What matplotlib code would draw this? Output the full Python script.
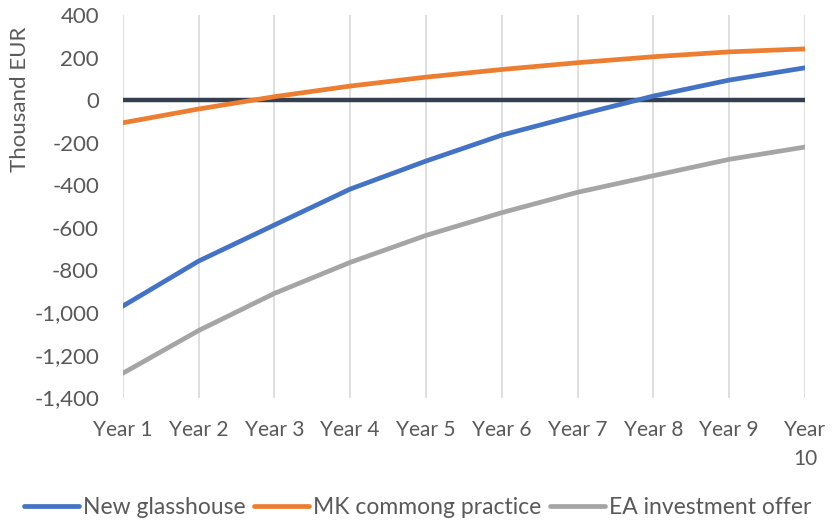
import matplotlib
matplotlib.use("Agg")
import matplotlib.pyplot as plt
from matplotlib.ticker import FuncFormatter, MultipleLocator

years = ["Year 1", "Year 2", "Year 3", "Year 4", "Year 5",
         "Year 6", "Year 7", "Year 8", "Year 9", "Year 10"]

# cumulative cash flow, thousand EUR
new_glasshouse = [-970, -758, -588, -419, -287, -165, -71, 19, 94, 152]
mk_practice = [-107, -42, 16, 66, 108, 144, 176, 204, 227, 241]
ea_offer = [-1286, -1085, -910, -764, -637, -530, -434, -356, -279, -221]

series = [
    ("New glasshouse", new_glasshouse, "#4472C4"),
    ("MK commong practice", mk_practice, "#ED7D31"),
    ("EA investment offer", ea_offer, "#A5A5A5"),
]

plt.rcParams["font.family"] = ["Lato", "DejaVu Sans"]
text_color = "#595959"

fig = plt.figure(figsize=(8.32, 5.21), dpi=100)
ax = fig.add_axes([0.1475, 0.237, 0.82, 0.734])

x = range(len(years))
for name, values, color in series:
    ax.plot(x, values, color=color, lw=3.4, label=name,
            solid_capstyle="round", zorder=3)

ax.axhline(0, color="#333F50", lw=3.2, zorder=2)

ax.set_xlim(0, len(years) - 1)
ax.set_ylim(-1400, 400)
ax.yaxis.set_major_locator(MultipleLocator(200))
ax.yaxis.set_major_formatter(FuncFormatter(lambda v, p: f"{v:,.0f}"))

ax.set_xticks(list(x))
ax.set_xticklabels([y if len(y) < 7 else y.replace(" ", "\n") for y in years],
                   linespacing=1.55, va="top")
ax.grid(axis="x", color="#D9D9D9", lw=1.2, zorder=0)
ax.tick_params(axis="both", length=0, colors=text_color)
ax.tick_params(axis="x", pad=16, labelsize=15)
ax.tick_params(axis="y", pad=17, labelsize=16)
for s in ax.spines.values():
    s.set_visible(False)

ax.set_ylabel("Thousand EUR", fontsize=16, color=text_color, va="center")
ax.yaxis.set_label_coords(-0.15, 0.78)

fig.legend(loc="center", bbox_to_anchor=(0.502, 0.026), ncol=3, frameon=False,
           fontsize=16.5, labelcolor=text_color, handlelength=2.4,
           handletextpad=0.15, columnspacing=0.4)

fig.savefig("out.png", dpi=100)
